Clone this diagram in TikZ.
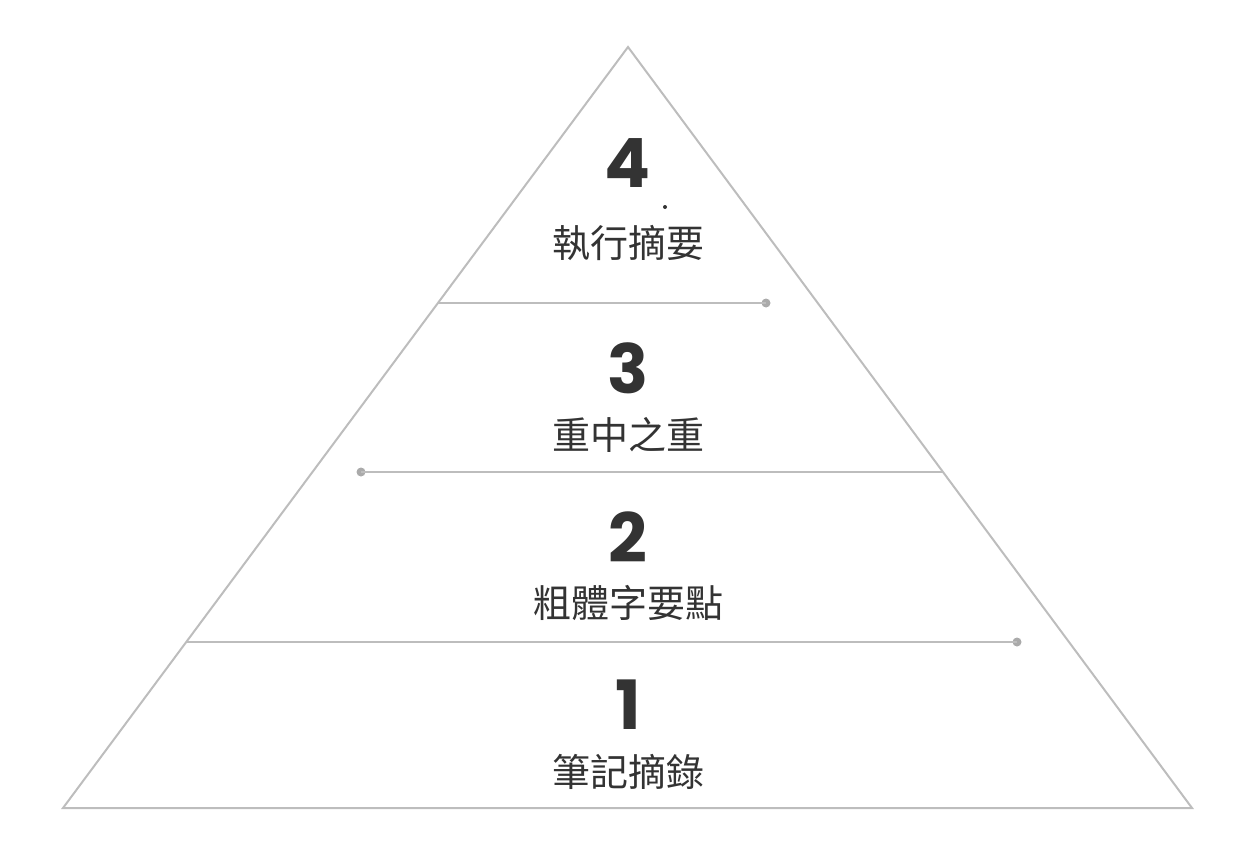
\documentclass[tikz,border=0pt]{standalone}
\usepackage{fontspec}
\newfontfamily\cjk{Noto Sans CJK TC}
\newfontfamily\numf{Poppins}[UprightFont=* Bold]
\definecolor{edge}{HTML}{BDBDBD}
\definecolor{txt}{HTML}{333333}
\begin{document}
\begin{tikzpicture}[x=1pt,y=-1pt,
  num/.style={font=\numf\fontsize{68}{68}\selectfont,text=txt,inner sep=0},
  lab/.style={font=\cjk\fontsize{38}{38}\selectfont,text=txt,inner sep=0},
  sep/.style={draw=edge,line width=2pt},
  dotc/.style={circle,fill=edge!90!black,inner sep=0,minimum size=9pt}]
\useasboundingbox (0,0) rectangle (1246,862);
\coordinate (top) at (628,47);
\coordinate (bl) at (63,808);
\coordinate (br) at (1192,808);
\draw[edge,line width=2pt,line join=miter] (top) -- (bl) -- (br) -- cycle;
\coordinate (l3) at (438,303); \node[dotc] (d3) at (766,303) {};
\draw[sep] (l3) -- (d3.center);
\node[dotc] (d2) at (361,472) {}; \coordinate (r2) at (943,472);
\draw[sep] (d2.center) -- (r2);
\coordinate (l1) at (187,642); \node[dotc] (d1) at (1017,642) {};
\draw[sep] (l1) -- (d1.center);
\node[circle,fill=txt,inner sep=0,minimum size=4pt] (spk) at (665,207) {};
\node[num] (n4) at (628,163) {4};
\node[lab] (t4) at (628,243) {執行摘要};
\node[num] (n3) at (628,368) {3};
\node[lab] (t3) at (628,435) {重中之重};
\node[num] (n2) at (628,537) {2};
\node[lab] (t2) at (628,603) {粗體字要點};
\node[num] (n1) at (628,705) {1};
\node[lab] (t1) at (628,772) {筆記摘錄};
\end{tikzpicture}
\end{document}
